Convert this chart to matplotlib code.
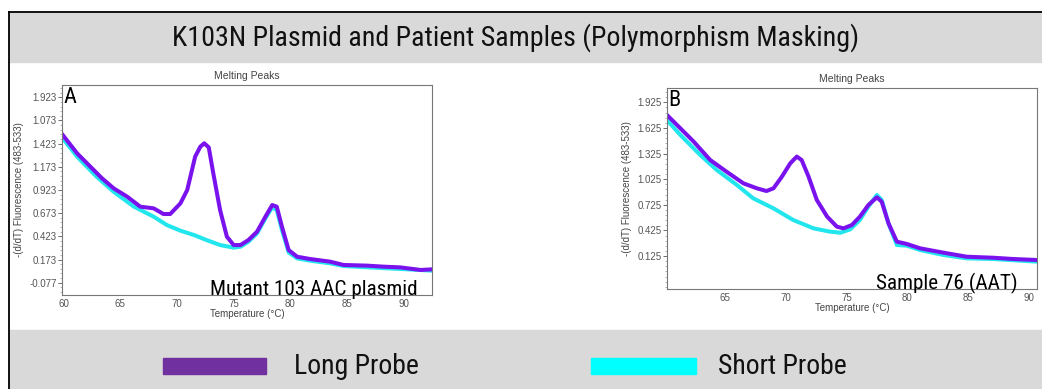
import matplotlib
matplotlib.use('Agg')
import matplotlib.pyplot as plt
from matplotlib.patches import Rectangle
from matplotlib.lines import Line2D
from matplotlib.ticker import FixedLocator, FixedFormatter, AutoMinorLocator

# Panel A: Mutant 103 AAC plasmid
temp_a_long = [59.85, 61.18, 62.35, 63.38, 64.41, 65.6, 66.76, 67.94, 68.8, 69.4, 70.3, 70.9,
               71.6, 72.06, 72.4, 72.8, 73.2, 73.8, 74.4, 75.0, 75.6, 76.3, 77.06, 77.8,
               78.4, 78.8, 79.26, 79.85, 80.6, 81.76, 83.5, 84.7, 86.76, 88.2, 89.7, 91.5, 92.5]
long_a = [1.527, 1.319, 1.175, 1.049, 0.941, 0.851, 0.743, 0.725, 0.664, 0.664, 0.779, 0.923,
          1.283, 1.391, 1.427, 1.383, 1.103, 0.707, 0.419, 0.329, 0.329, 0.383, 0.473, 0.635,
          0.761, 0.743, 0.527, 0.275, 0.203, 0.178, 0.150, 0.114, 0.107, 0.096, 0.088, 0.060, 0.067]
temp_a_short = [59.85, 61.18, 62.9, 64.4, 66.2, 67.94, 69.1, 70.3, 71.5, 72.6, 73.8, 75.0, 75.6,
                76.3, 77.06, 77.8, 78.4, 78.8, 79.26, 79.85, 80.6, 81.76, 83.5, 84.7, 86.76,
                89.7, 92.5]
short_a = [1.491, 1.283, 1.067, 0.905, 0.743, 0.635, 0.545, 0.484, 0.437, 0.383, 0.329, 0.301,
           0.311, 0.365, 0.455, 0.617, 0.736, 0.707, 0.491, 0.250, 0.185, 0.160, 0.132, 0.103,
           0.089, 0.071, 0.053]

# Panel B: Sample 76 (AAT)
temp_b_long = [60.19, 61.3, 62.4, 63.76, 65.1, 66.5, 67.6, 68.4, 68.98, 69.67, 70.36, 70.9,
               71.3, 71.87, 72.55, 73.4, 74.2, 74.75, 75.44, 76.1, 76.8, 77.5, 77.9, 78.46,
               79.15, 79.97, 81.07, 83.0, 84.9, 87.1, 88.76, 90.74]
long_b = [1.777, 1.620, 1.464, 1.249, 1.113, 0.976, 0.918, 0.886, 0.918, 1.054, 1.210, 1.289,
          1.249, 1.054, 0.781, 0.586, 0.469, 0.449, 0.488, 0.586, 0.722, 0.812, 0.761, 0.507,
          0.293, 0.266, 0.215, 0.164, 0.117, 0.105, 0.090, 0.078]
temp_b_short = [60.19, 61.3, 62.94, 64.3, 65.96, 67.3, 68.98, 70.6, 72.28, 73.65, 74.5, 75.3,
                76.1, 76.8, 77.5, 77.9, 78.46, 79.15, 79.97, 81.07, 83.0, 84.9, 87.1, 90.74]
short_b = [1.718, 1.542, 1.308, 1.132, 0.957, 0.801, 0.683, 0.547, 0.449, 0.410, 0.398, 0.437,
           0.547, 0.703, 0.840, 0.781, 0.507, 0.254, 0.246, 0.195, 0.137, 0.098, 0.090, 0.059]

yticks_a = [-0.077, 0.173, 0.423, 0.673, 0.923, 1.173, 1.423, 1.673, 1.923]
ytick_labels_a = ['-0.077', '0.173', '0.423', '0.673', '0.923', '1.173', '1.423', '1.073', '1.923']
xticks_a = [60, 65, 70, 75, 80, 85, 90]
yticks_b = [0.125, 0.425, 0.725, 1.025, 1.325, 1.625, 1.925]
ytick_labels_b = ['0.125', '0.425', '0.725', '1.025', '1.325', '1.625', '1.925']
xticks_b = [65, 70, 75, 80, 85, 90]

LONG = '#7a12ee'
SHORT = '#22e6ee'
BAND = '#d9d9d9'
W, H = 1042, 389

fig = plt.figure(figsize=(W / 100, H / 100), dpi=100)
fig.patch.set_facecolor('white')

def fx(px):
    return px / W

def fy(py):
    return 1 - py / H

# grey bands and border lines
fig.patches.append(Rectangle((fx(9), fy(62)), 1 - fx(9), fy(12) - fy(62),
                             transform=fig.transFigure, color=BAND, zorder=0))
fig.patches.append(Rectangle((fx(9), 0), 1 - fx(9), fy(330),
                             transform=fig.transFigure, color=BAND, zorder=0))
fig.lines.append(Line2D([fx(9), 1], [fy(12), fy(12)], transform=fig.transFigure,
                        color='black', lw=1.3))
fig.lines.append(Line2D([fx(9), fx(9)], [0, fy(12)], transform=fig.transFigure,
                        color='black', lw=1.3))

narrow = ['Roboto Condensed', 'Open Sans Condensed', 'Roboto', 'DejaVu Sans']
fig.text(fx(516), fy(38), 'K103N Plasmid and Patient Samples (Polymorphism Masking)',
         ha='center', va='center', fontsize=20.2, family=narrow, color='#111111')

def panel(rect, xlim, ylim, xticks, yticks, ylabels, curves, letter, note, note_x):
    ax = fig.add_axes(rect)
    for t, v, c in curves:
        ax.plot(t, v, color=c, lw=2.9, solid_joinstyle='round')
    ax.set_xlim(*xlim)
    ax.set_ylim(*ylim)
    ax.xaxis.set_major_locator(FixedLocator(xticks))
    ax.yaxis.set_major_locator(FixedLocator(yticks))
    ax.yaxis.set_major_formatter(FixedFormatter(ylabels))
    ax.yaxis.set_minor_locator(AutoMinorLocator(5))
    ax.tick_params(axis='both', labelsize=7, colors='#555555', length=3, width=0.6,
                   pad=1, labelcolor='#555555')
    ax.tick_params(axis='y', which='minor', length=1.5, width=0.5, colors='#999999')
    ax.tick_params(axis='x', length=0, pad=3)
    for s in ax.spines.values():
        s.set_color('#777777')
        s.set_linewidth(0.8)
    ax.set_title('Melting Peaks', fontsize=7.5, color='#444444', pad=4, family='Liberation Sans')
    ax.set_xlabel('Temperature (\u00b0C)', fontsize=7, color='#444444', labelpad=0,
                  family='Liberation Sans')
    ax.set_ylabel('-(d/dT) Fluorescence (483-533)', fontsize=7, color='#444444', labelpad=4,
                  family='Liberation Sans')
    for lab in ax.get_xticklabels() + ax.get_yticklabels():
        lab.set_family('Liberation Sans')
    ax.text(0.004, 0.99, letter, transform=ax.transAxes, ha='left', va='top',
            fontsize=16, family=narrow, color='black')
    ax.text(note_x, 0.0, note, transform=ax.transAxes, ha='left', va='baseline',
            fontsize=15.2, family=narrow, color='black', clip_on=False)
    return ax

panel([fx(62), fy(295), fx(432) - fx(62), fy(85) - fy(295)], (59.85, 92.5), (-0.210, 2.056),
      xticks_a, yticks_a, ytick_labels_a,
      [(temp_a_short, short_a, SHORT), (temp_a_long, long_a, LONG)],
      'A', 'Mutant 103 AAC plasmid', (210 - 62) / (432 - 62))

panel([fx(667), fy(289), fx(1037) - fx(667), fy(88) - fy(289)], (60.2, 90.7), (-0.261, 2.092),
      xticks_b, yticks_b, ytick_labels_b,
      [(temp_b_short, short_b, SHORT), (temp_b_long, long_b, LONG)],
      'B', 'Sample 76 (AAT)', (876 - 667) / (1037 - 667))

# legend
fig.patches.append(Rectangle((fx(163), fy(374)), fx(266) - fx(163), fy(358) - fy(374),
                             transform=fig.transFigure, color='#7030a0', zorder=1))
fig.patches.append(Rectangle((fx(591), fy(374)), fx(696) - fx(591), fy(358) - fy(374),
                             transform=fig.transFigure, color='#00ffff', zorder=1))
fig.text(fx(294), fy(366), 'Long Probe', ha='left', va='center', fontsize=20,
         family=narrow, color='#111111')
fig.text(fx(718), fy(366), 'Short Probe', ha='left', va='center', fontsize=20,
         family=narrow, color='#111111')

fig.savefig('out.png', dpi=100)
